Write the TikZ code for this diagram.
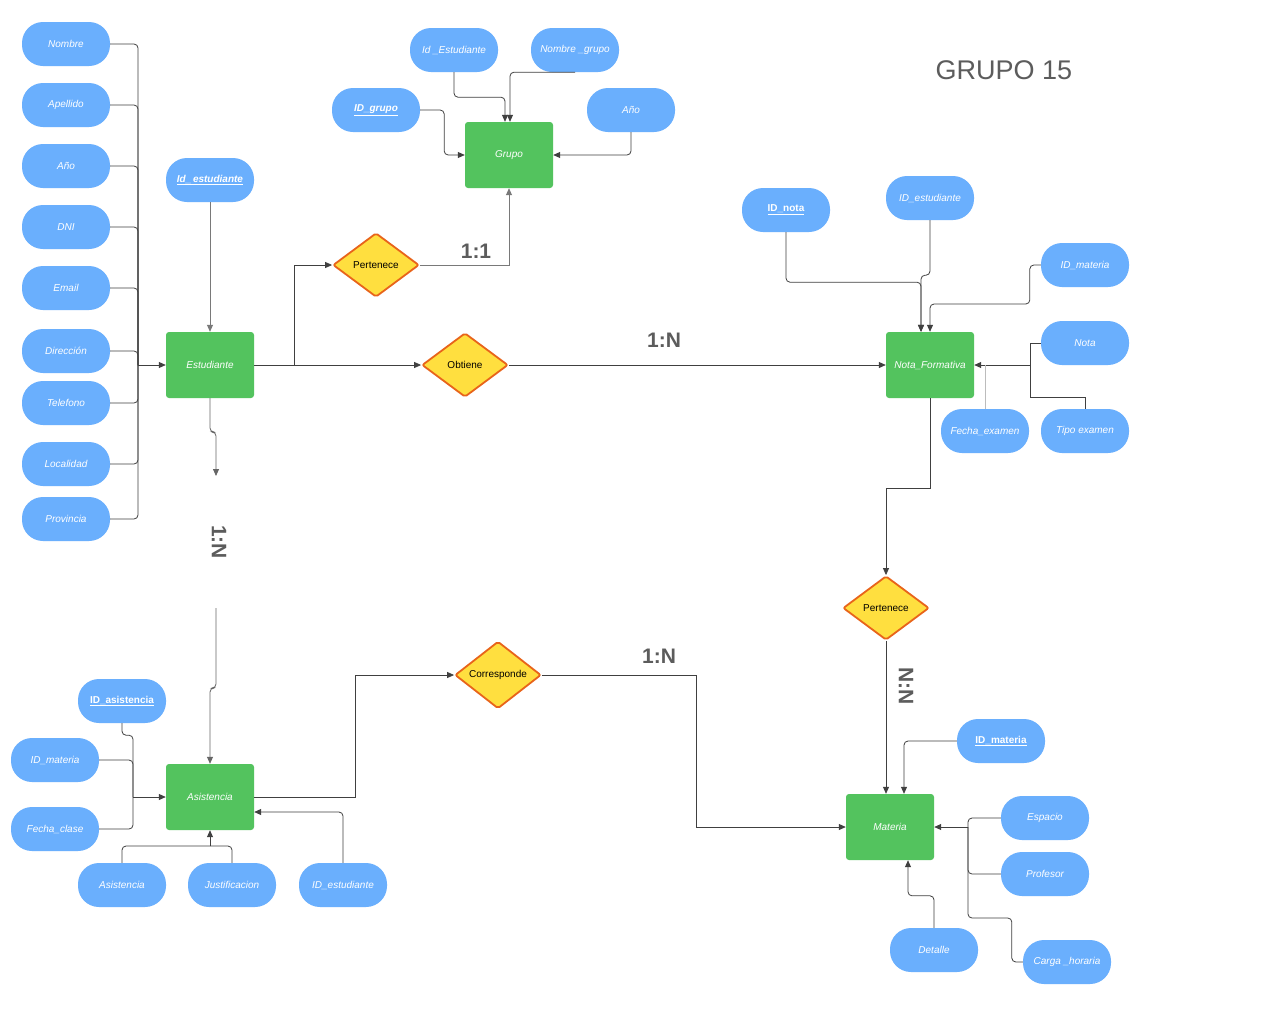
\documentclass[tikz,border=0pt]{standalone}
\usepackage{fontspec}
\setmainfont{Liberation Sans}
\usepackage{tikz}
\usetikzlibrary{shapes.geometric, arrows.meta, positioning, calc}
\definecolor{AttrBlue}{HTML}{6AAFFD}
\definecolor{EntGreen}{HTML}{53C35E}
\definecolor{RelYellow}{HTML}{FFDF3F}
\definecolor{RelOrange}{HTML}{E8641A}
\definecolor{LineGray}{HTML}{404040}
\definecolor{LabelGray}{HTML}{5C5C5C}

\begin{document}
\begin{tikzpicture}[
  x=1pt, y=-1pt,
  attr/.style={rectangle, rounded corners=21pt, fill=AttrBlue,
               minimum width=88pt, minimum height=44pt, text=white,
               font=\fontsize{10}{12}\selectfont\itshape},
  keyattr/.style={attr, font=\fontsize{10}{12}\selectfont\bfseries\itshape},
  keyup/.style={attr, font=\fontsize{10}{12}\selectfont\bfseries},
  ent/.style={rectangle, rounded corners=3pt, fill=EntGreen,
              minimum width=88pt, minimum height=66pt, text=white,
              font=\fontsize{10}{12}\selectfont\itshape},
  rel/.style={diamond, draw=RelOrange, line width=1.8pt, fill=RelYellow,
              minimum width=86pt, minimum height=64pt, inner sep=0pt,
              rounded corners=2pt, font=\fontsize{10}{12}\selectfont},
  card/.style={font=\fontsize{21}{24}\selectfont\bfseries, text=LabelGray},
  arr/.style={-{Triangle[length=7pt,width=6pt]}, LineGray, line width=0.8pt,
              rounded corners=4pt},
  lnk/.style={LineGray, line width=0.8pt, rounded corners=4pt},
]
\useasboundingbox[fill=white] (0,0) rectangle (1280,1034);

% entities
\node[ent] (estud) at (210,365) {Estudiante};
\node[ent] (grupo) at (509,155) {Grupo};
\node[ent] (nota) at (930,365) {Nota\_Formativa};
\node[ent] (materia) at (890,827) {Materia};
\node[ent] (asist) at (210,797) {Asistencia};

% relationships
\node[rel] (pert1) at (376,265) {Pertenece};
\node[rel] (obtiene) at (465,365) {Obtiene};
\node[rel] (pert2) at (886,608) {Pertenece};
\node[rel] (corresp) at (498,675) {Corresponde};

% Estudiante attributes
\node[attr] (nombre) at (66,44) {Nombre};
\node[attr] (apellido) at (66,105) {Apellido};
\node[attr] (anio1) at (66,166) {Año};
\node[attr] (dni) at (66,227) {DNI};
\node[attr] (email) at (66,288) {Email};
\node[attr] (direccion) at (66,351) {Dirección};
\node[attr] (telefono) at (66,403) {Telefono};
\node[attr] (localidad) at (66,464) {Localidad};
\node[attr] (provincia) at (66,519) {Provincia};
\node[keyattr] (idest0) at (210,180) {\underline{Id\_\,estudiante}};

% Grupo attributes
\node[attr] (idest1) at (454,50) {Id \_Estudiante};
\node[attr] (nomgrupo) at (575,50) {Nombre \_grupo};
\node[keyattr] (idgrupo) at (376,110) {\underline{ID\_grupo}};
\node[attr] (anio2) at (631,110) {Año};

% Nota_Formativa attributes
\node[keyup] (idnota) at (786,210) {\underline{ID\_nota}};
\node[attr] (idest2) at (930,198) {ID\_estudiante};
\node[attr] (idmat1) at (1085,265) {ID\_materia};
\node[attr] (notaattr) at (1085,343) {Nota};
\node[attr] (fechaex) at (985,431) {Fecha\_examen};
\node[attr] (tipo) at (1085,431) {Tipo examen};

% Materia attributes
\node[keyup] (idmat2) at (1001,741) {\underline{ID\_materia}};
\node[attr] (espacio) at (1045,818) {Espacio};
\node[attr] (profesor) at (1045,874) {Profesor};
\node[attr] (carga) at (1067,962) {Carga \_horaria};
\node[attr] (detalle) at (934,950) {Detalle};

% Asistencia attributes
\node[keyup] (idasis) at (122,701) {\underline{ID\_asistencia}};
\node[attr] (idmat3) at (55,760) {ID\_materia};
\node[attr] (fechacl) at (55,829) {Fecha\_clase};
\node[attr] (asisattr) at (122,885) {Asistencia};
\node[attr] (justif) at (232,885) {Justificacion};
\node[attr] (idest3) at (343,885) {ID\_estudiante};

% cardinalities
\node[card] (c11) at (476,251) {1:1};
\node[card] (c1n1) at (664,340) {1:N};
\node[card, rotate=-90] (c1n2) at (219,542) {1:N};
\node[card, rotate=-90] (cnn) at (906,686) {N:N};
\node[card] (c1n3) at (659,656) {1:N};
\node[font=\fontsize{27}{30}\selectfont, text=LabelGray] (titulo) at (1004,70) {GRUPO 15};

% helper points
\coordinate (bus) at (138,365);
\coordinate (j1) at (216,432);
\coordinate (d1) at (216,476);
\coordinate (d2) at (216,608);
\coordinate (j2) at (216,688);
\coordinate (nbus) at (1030,365);
\coordinate (mbus) at (968,827);
\coordinate (cb) at (968,918);
\coordinate (abus) at (133,797);
\coordinate (abot) at (210,846);

% Estudiante
\foreach \a in {nombre,apellido,anio1,dni,email,direccion,telefono,localidad,provincia}
  \draw[lnk] (\a.east) -| (bus);
\draw[arr] (bus) -- (estud.west);
\draw[arr, LineGray!70] (idest0.south) -- (estud.north);
\draw[arr] (estud.east) -- (obtiene.west);
\draw[arr, sharp corners] (estud.east) -- ++(40,0) |- (pert1.west);
\draw[arr, LineGray!70, sharp corners] (pert1.east) -| (grupo.south);
\draw[arr] (obtiene.east) -- (nota.west);
\draw[arr, LineGray!80] (estud.south) |- (j1) -- (d1);
\draw[arr, LineGray!80] (d2) -- (j2) -| (asist.north);

% Grupo
\draw[arr] (idest1.south) -- ++(0,25) -| ([xshift=-4pt]grupo.north);
\draw[arr] (nomgrupo.south) -| ([xshift=1pt]grupo.north);
\draw[arr] (idgrupo.east) -- ++(24,0) |- (grupo.west);
\draw[arr] (anio2.south) |- (grupo.east);

% Nota_Formativa
\draw[arr] (idnota.south) -- ++(0,50) -| ([xshift=-9pt]nota.north);
\draw[arr] (idest2.south) -- ++(0,55) -| ([xshift=-9pt]nota.north);
\draw[arr] (idmat1.west) -- ++(-11,0) -- ++(0,39) -| (nota.north);
\draw[lnk, sharp corners] (notaattr.west) -| (nbus);
\draw[lnk, sharp corners] (tipo.north) -- ++(0,-11) -| (nbus);
\draw[arr] (nbus) -- (nota.east);
\draw[lnk, LineGray!35] (fechaex.north) -- (fechaex.north |- nota.east);
\draw[arr, sharp corners] (nota.south) -- ++(0,90) -| (pert2.north);

% Materia
\draw[arr] (pert2.south) -- (pert2.south |- materia.north);
\draw[arr] (idmat2.west) -| ([xshift=14pt]materia.north);
\draw[lnk] (espacio.west) -| (mbus);
\draw[lnk] (profesor.west) -| (mbus);
\draw[lnk] (carga.west) -- ++(-11,0) |- (cb) -- (mbus);
\draw[arr] (mbus) -- (materia.east);
\draw[arr] (detalle.north) -- ++(0,-32) -| ([xshift=18pt]materia.south);

% Asistencia
\draw[lnk] (idasis.south) -- ++(0,12) -| (abus);
\draw[lnk] (idmat3.east) -| (abus);
\draw[lnk] (fechacl.east) -| (abus);
\draw[arr] (abus) -- (asist.west);
\draw[lnk] (asisattr.north) |- (abot);
\draw[lnk] (justif.north) |- (abot);
\draw[arr] (abot) -- (asist.south);
\draw[arr] (idest3.north) |- ([yshift=-15pt]asist.east);
\draw[arr, sharp corners] (asist.east) -- ++(101,0) |- (corresp.west);
\draw[arr, sharp corners] (corresp.east) -- ++(154,0) |- (materia.west);

\end{tikzpicture}
\end{document}
